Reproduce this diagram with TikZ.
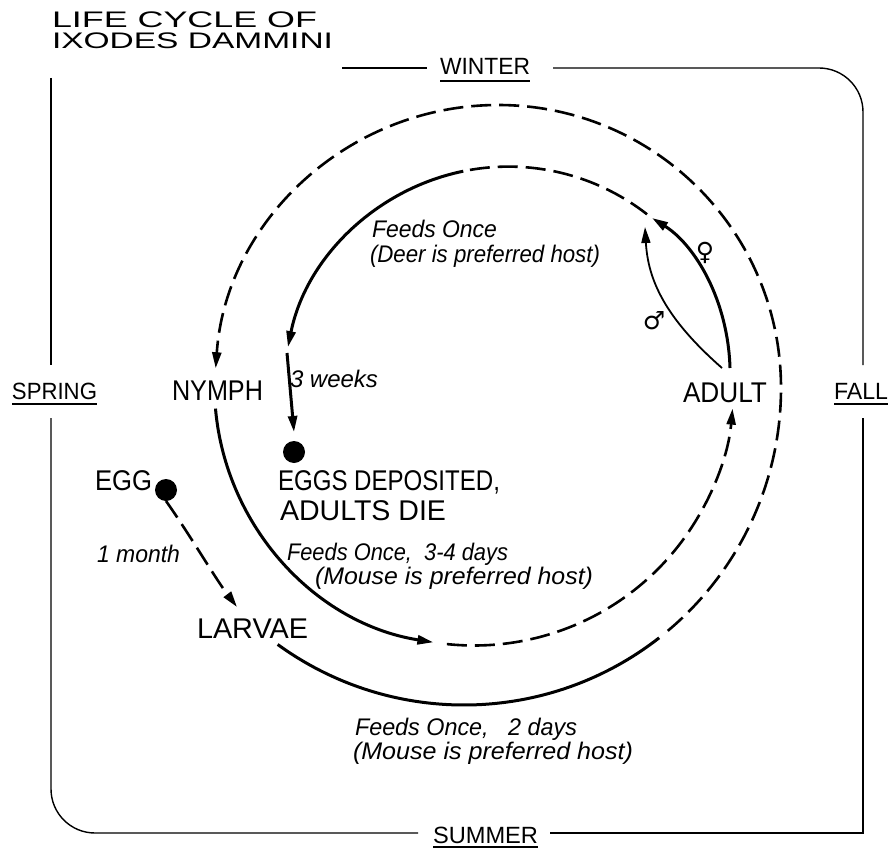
\documentclass[tikz,border=0pt]{standalone}
\usepackage{fontspec}
\setmainfont{Liberation Sans}
\newfontfamily\symfont{DejaVu Sans}
\usepackage{graphicx}
\usetikzlibrary{arrows.meta,calc}
\newcommand\fitw[2]{\resizebox{#1pt}{\height}{#2}}
\begin{document}
\begin{tikzpicture}[x=1pt,y=-1pt,
  every node/.style={inner sep=0pt, outer sep=0pt},
  capslab/.style={anchor=base west, font=\fontsize{28.5}{30}\selectfont},
  itlab/.style={anchor=base west, font=\fontsize{24}{26}\selectfont\itshape},
  titlelab/.style={anchor=base west, font=\fontsize{22.5}{24}\selectfont},
  seasonlab/.style={anchor=base west, font=\fontsize{23.5}{25}\selectfont},
  sexlab/.style={font=\symfont\fontsize{25}{25}\selectfont},
  frameline/.style={line width=1.4pt},
  uline/.style={line width=1.1pt},
  solidpath/.style={line width=3pt},
  dashpath/.style={line width=2.6pt, dash pattern=on 20pt off 8pt},
  arrowtip/.style={-{Triangle[length=16pt,width=9pt]}},
  dotnode/.style={circle, fill=black, minimum size=22pt},
]
\useasboundingbox (0,0) rectangle (891,848);

% title
\node[titlelab] (title1) at (52,27.5) {\fitw{265}{LIFE CYCLE OF}};
\node[titlelab] (title2) at (52,49) {\fitw{281}{IXODES DAMMINI}};

% seasons
\node[seasonlab] (winter) at (440,75) {\fitw{90}{WINTER}};
\node[seasonlab] (spring) at (12,399) {\fitw{85}{SPRING}};
\node[seasonlab] (fall) at (834,399) {\fitw{54}{FALL}};
\node[seasonlab] (summer) at (433,843) {\fitw{105}{SUMMER}};
\foreach \s/\d in {winter/6, spring/5, fall/5, summer/4}
  \draw[uline] ([yshift=-\d pt]\s.base west) -- ([yshift=-\d pt]\s.base east);

% frame
\draw[frameline] (51,78) -- (51,365);
\draw[frameline, rounded corners=44pt] (51,418) -- (51,833) -- (418,833);
\draw[frameline] (550,833) -- (863,833) -- (863,418);
\draw[frameline, rounded corners=44pt] (553,68) -- (863,68) -- (863,365);
\draw[frameline] (342,68) -- (427,68);

% stage labels
\node[capslab] (nymph) at (172,400) {\fitw{91}{NYMPH}};
\node[capslab] (adult) at (683,402) {\fitw{84}{ADULT}};
\node[capslab] (egg) at (95,490) {\fitw{57}{EGG}};
\node[capslab] (larvae) at (197,638) {\fitw{111}{LARVAE}};
\node[capslab] (eggs1) at (278,490) {\fitw{222}{EGGS DEPOSITED,}};
\node[capslab] (eggs2) at (280,520) {\fitw{166}{ADULTS DIE}};

% italic labels
\node[itlab] (deer1) at (372,237) {\fitw{125}{Feeds Once}};
\node[itlab] (deer2) at (370,262) {\fitw{230}{(Deer is preferred host)}};
\node[itlab] (weeks) at (290,387) {\fitw{88}{3 weeks}};
\node[itlab] (month) at (97,562) {\fitw{83}{1 month}};
\node[itlab] (nymf1) at (287,560) {\fitw{221}{Feeds Once,\ \ 3-4 days}};
\node[itlab] (nymf2) at (315,584) {\fitw{278}{(Mouse is preferred host)}};
\node[itlab] (larf1) at (355,735) {\fitw{222}{Feeds Once,\ \ \ 2 days}};
\node[itlab] (larf2) at (353,759) {\fitw{280}{(Mouse is preferred host)}};

% sex symbols
\node[sexlab] (female) at (705,253) {♀};
\node[sexlab] (male) at (654,321) {♂};

% dots
\node[dotnode] (eggdot) at (166,490) {};
\node[dotnode] (depdot) at (294,452) {};

% centres of the arcs
\coordinate (Cout1) at (464,388);
\coordinate (Cout2) at (498,388);
\coordinate (Cin1) at (474,386);
\coordinate (Cin2) at (508.5,391.6);

% egg -> larvae
\coordinate (larvtip) at (237,607);
\draw[dashpath, arrowtip] (eggdot.south) .. controls (190,535) and (215,578) .. (larvtip);

% larvae -> (summer, feeding) -> winter -> nymph
\draw[solidpath] (Cout1) ++(126:317) arc[start angle=126, end angle=52, radius=317];
\draw[dashpath, arrowtip] (Cout1) ++(50:317) arc[start angle=50, end angle=0, radius=317]
   arc[start angle=0, end angle=-176, radius=283];

% nymph -> adult
\draw[solidpath, arrowtip] (Cin1) ++(175:259.5) arc[start angle=175, end angle=99, radius=259.5];
\draw[dashpath, arrowtip] (Cin1) ++(96:259.5) arc[start angle=96, end angle=5, radius=259.5];

% adult -> female / male
\draw[solidpath, arrowtip] (730,368) .. controls (728,300) and (695,245) .. (652,218);
\draw[line width=1.8pt, arrowtip] (722,368) .. controls (665,318) and (648,280) .. (645,227);

% adult (winter) -> deer feeding -> eggs
\draw[dashpath] (Cin2) ++(-52:225) arc[start angle=-52, end angle=-101.6, radius=225];
\draw[solidpath, arrowtip] (Cin2) ++(-101.6:225) arc[start angle=-101.6, end angle=-168.6, radius=225];
\draw[solidpath, arrowtip] (287,353) -- ([yshift=9pt]depdot.north);
\end{tikzpicture}
\end{document}
